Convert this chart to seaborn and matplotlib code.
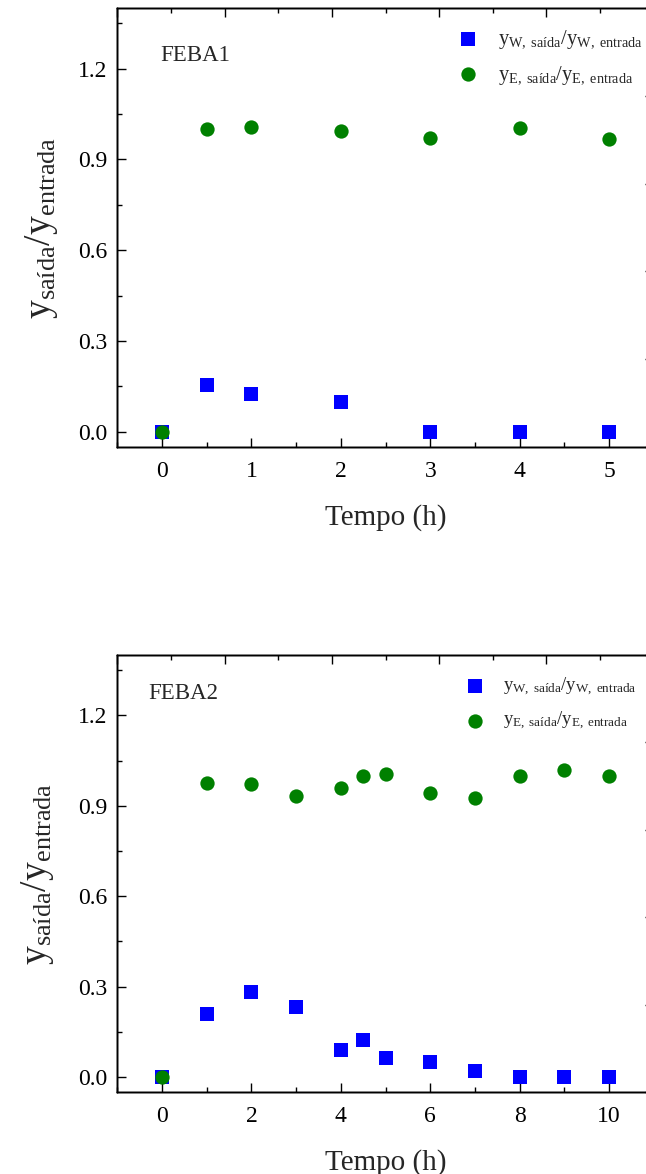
import matplotlib
matplotlib.use("Agg")
import matplotlib.pyplot as plt
import seaborn as sns
import pandas as pd
from matplotlib.ticker import MultipleLocator, FormatStrFormatter

# ---- data ----
t1 = [0, 0.5, 1, 2, 3, 4, 5]
w1 = [0.0, 0.155, 0.125, 0.097, 0.0, 0.0, 0.0]
e1 = [0.0, 1.000, 1.006, 0.995, 0.971, 1.004, 0.967]

t2 = [0, 1, 2, 3, 4, 4.5, 5, 6, 7, 8, 9, 10]
w2 = [0.0, 0.208, 0.284, 0.234, 0.089, 0.125, 0.064, 0.051, 0.021, 0.0, 0.0, 0.0]
e2 = [0.0, 0.976, 0.971, 0.931, 0.958, 1.000, 1.006, 0.943, 0.927, 1.000, 1.018, 1.000]

panel_names = ["FEBA1", "FEBA2"]
lab_w = r"$\mathrm{y}_{\mathrm{W,\ saída}}/\mathrm{y}_{\mathrm{W,\ entrada}}$"
lab_e = r"$\mathrm{y}_{\mathrm{E,\ saída}}/\mathrm{y}_{\mathrm{E,\ entrada}}$"
ylab = r"$\mathrm{y}_{\mathrm{saída}}/\mathrm{y}_{\mathrm{entrada}}$"
xlab = "Tempo (h)"

sns.set_style("ticks")
plt.rcParams["font.family"] = ["Liberation Serif", "DejaVu Serif"]
plt.rcParams["mathtext.fontset"] = "custom"
plt.rcParams["mathtext.rm"] = "Liberation Serif"
plt.rcParams["mathtext.it"] = "Liberation Serif:italic"
plt.rcParams["mathtext.bf"] = "Liberation Serif:bold"

fig = plt.figure(figsize=(6.46, 11.74), dpi=100)
ax1 = fig.add_axes([0.1817, 0.6195, 0.8303, 0.3734])
ax2 = fig.add_axes([0.1817, 0.0696, 0.8303, 0.3725])

BLUE = "#0000ff"
GREEN = "#008000"

configs = [
    (ax1, t1, w1, e1, (-0.5, 5.5), 1, 0.5, panel_names[0], (0.0794, 0.8935), (0.634, 0.953), 14.7, 13),
    (ax2, t2, w2, e2, (-1, 11), 2, 1, panel_names[1], (0.057, 0.913), (0.649, 0.952), 13.5, 16),
]

for ax, t, w, e, xl, xmaj, xmin, name, tpos, lpos, lfs, ylp in configs:
    df = pd.DataFrame({"t": t, "w": w, "e": e})
    sns.scatterplot(data=df, x="t", y="w", ax=ax, marker="s", s=88, color=BLUE,
                    linewidth=0, label=lab_w, zorder=3, clip_on=False)
    sns.scatterplot(data=df, x="t", y="e", ax=ax, marker="o", s=106, color=GREEN,
                    linewidth=0, label=lab_e, zorder=4, clip_on=False)
    ax.set_xlim(*xl)
    ax.set_ylim(-0.05, 1.4)
    ax.xaxis.set_major_locator(MultipleLocator(xmaj))
    ax.xaxis.set_minor_locator(MultipleLocator(xmin))
    ax.yaxis.set_major_locator(MultipleLocator(0.3))
    ax.yaxis.set_minor_locator(MultipleLocator(0.15))
    ax.yaxis.set_major_formatter(FormatStrFormatter("%.1f"))
    ax.tick_params(which="both", direction="in", width=1.0, top=False, right=False,
                   labelsize=17, colors="black")
    ax.tick_params(which="major", length=6.5)
    ax.tick_params(axis="x", which="major", pad=10)
    ax.tick_params(axis="y", which="major", pad=7)
    ax.tick_params(which="minor", length=3.4)
    for sp in ax.spines.values():
        sp.set_linewidth(1.0)
        sp.set_color("black")
    ax.set_xlabel(xlab, fontsize=21, labelpad=16)
    ax.set_ylabel(ylab, fontsize=27, labelpad=ylp)
    ax.text(tpos[0], tpos[1], name, transform=ax.transAxes, fontsize=16.5,
            ha="left", va="center")
    leg = ax.legend(loc="upper left", bbox_to_anchor=lpos, frameon=False,
                    fontsize=lfs, handlelength=1.0, handletextpad=1.0,
                    borderpad=0, borderaxespad=0, labelspacing=0.65)

    # independent top / right frame axes (0-5 scale), no labels
    axt = ax.twiny()
    axt.set_xlim(0, 5)
    axt.xaxis.set_major_locator(MultipleLocator(1))
    axt.xaxis.set_minor_locator(MultipleLocator(0.5))
    axt.tick_params(which="both", direction="in", width=1.0, labeltop=False,
                    colors="black")
    axt.tick_params(which="major", length=6.5)
    axt.tick_params(which="minor", length=3.4)
    axr = ax.twinx()
    axr.set_ylim(0, 5)
    axr.yaxis.set_major_locator(MultipleLocator(1))
    axr.yaxis.set_minor_locator(MultipleLocator(0.5))
    axr.tick_params(which="both", direction="in", width=1.0, labelright=False,
                    colors="black")
    axr.tick_params(which="major", length=6.5)
    axr.tick_params(which="minor", length=3.4)
    for a in (axt, axr):
        for sp in a.spines.values():
            sp.set_linewidth(1.0)
            sp.set_color("black")

fig.savefig("out.png", dpi=100)
